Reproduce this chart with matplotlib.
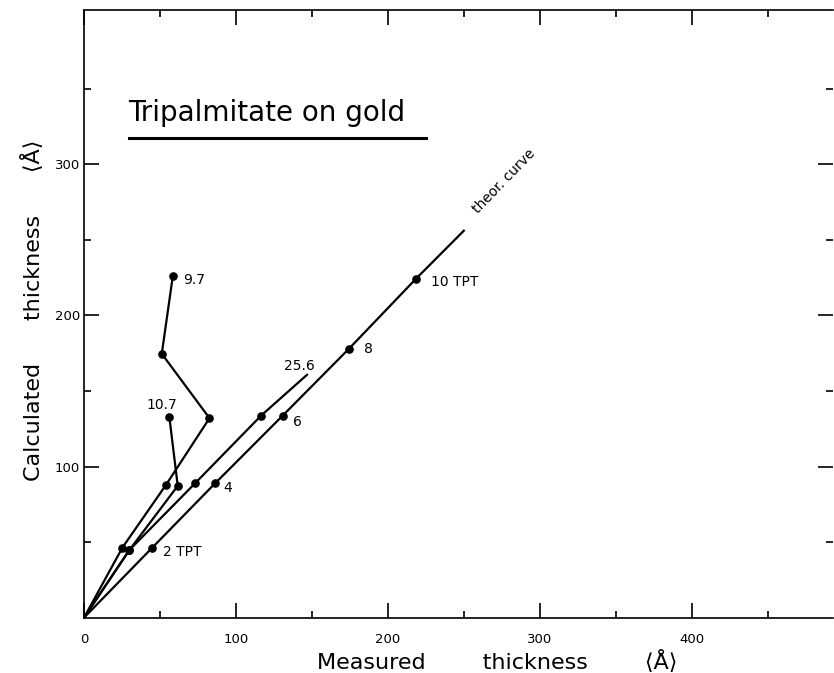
import matplotlib.pyplot as plt
from matplotlib.lines import Line2D

# thickness values in Angstrom
theor_x = [0, 45.0, 86.4, 130.7, 174.2, 218.6, 250.0]
theor_y = [0, 46.4, 89.0, 133.6, 177.7, 224.3, 256.0]
theor_labels = ['2 TPT', '4', '6', '8', '10 TPT']

s97_x = [0, 25.3, 54.0, 82.6, 51.2, 58.5]
s97_y = [0, 46.4, 87.9, 132.0, 174.6, 226.3]

s107_x = [0, 29.9, 61.7, 56.2]
s107_y = [0, 44.8, 87.2, 132.7]

s256_x = [0, 29.9, 73.2, 116.5, 146.8]
s256_y = [0, 44.8, 89.0, 133.6, 160.7]

plt.rcParams['font.family'] = 'DejaVu Sans'

fig = plt.figure(figsize=(8.34, 6.73), dpi=100)
ax = fig.add_axes([84 / 834, 55.3 / 673, 749 / 834, 607.7 / 673])

line_kw = dict(color='black', lw=1.6, marker='o', ms=5.2, solid_joinstyle='miter')
ax.plot(theor_x, theor_y, markevery=slice(1, -1), **line_kw)
ax.plot(s97_x, s97_y, markevery=slice(1, None), **line_kw)
ax.plot(s107_x, s107_y, markevery=slice(1, None), **line_kw)
ax.plot(s256_x, s256_y, markevery=slice(1, -1), **line_kw)

# point labels, placed just to the right of each marker
offsets = [(7, -3), (5, -3), (7, -4), (10, 0), (10, -2)]
for x, y, lab, (dx, dy) in zip(theor_x[1:-1], theor_y[1:-1], theor_labels, offsets):
    ax.text(x + dx, y + dy, lab, fontsize=10, va='center', ha='left')

ax.text(s97_x[-1] + 7, s97_y[-1] - 3, '9.7', fontsize=10, va='center', ha='left')
ax.text(s107_x[-1] - 15, s107_y[-1] + 8, '10.7', fontsize=10, va='center', ha='left')
ax.text(s256_x[-1] - 15, s256_y[-1] + 6, '25.6', fontsize=10, va='center', ha='left')
ax.text(theor_x[-1] + 11, theor_y[-1] + 10, 'theor. curve', fontsize=10, rotation=46,
        rotation_mode='anchor', ha='left', va='bottom')

ax.set_xlim(0, 493)
ax.set_ylim(0, 402)

ax.set_xticks([0, 100, 200, 300, 400])
ax.set_xticks([50, 150, 250, 350, 450], minor=True)
ax.set_yticks([100, 200, 300])
ax.set_yticks([50, 150, 250, 350], minor=True)
ax.tick_params(which='both', direction='in', top=True, right=True, width=1.2,
               labelsize=9.5, pad=11)
ax.tick_params(which='major', length=11)
ax.tick_params(which='minor', length=5)
ax.tick_params(axis='y', pad=3)
for side in ['left', 'bottom', 'top']:
    ax.spines[side].set_linewidth(1.2)
ax.spines['right'].set_visible(False)

# title with underline inside the frame
fig.text(128.5 / 834, 1 - 112.8 / 673, 'Tripalmitate on gold', fontsize=20,
         ha='left', va='center')
fig.add_artist(Line2D([128.5 / 834, 426 / 834], [1 - 137.5 / 673] * 2,
                      color='black', lw=2.2, transform=fig.transFigure))

fig.text(497 / 834, 1 - 662 / 673, 'Measured        thickness        \u27e8\u00c5\u27e9',
         fontsize=16, ha='center', va='center')
fig.text(33 / 834, 1 - 310 / 673, 'Calculated      thickness      \u27e8\u00c5\u27e9',
         fontsize=16, ha='center', va='center', rotation=90)

fig.savefig('out.png', dpi=100)
